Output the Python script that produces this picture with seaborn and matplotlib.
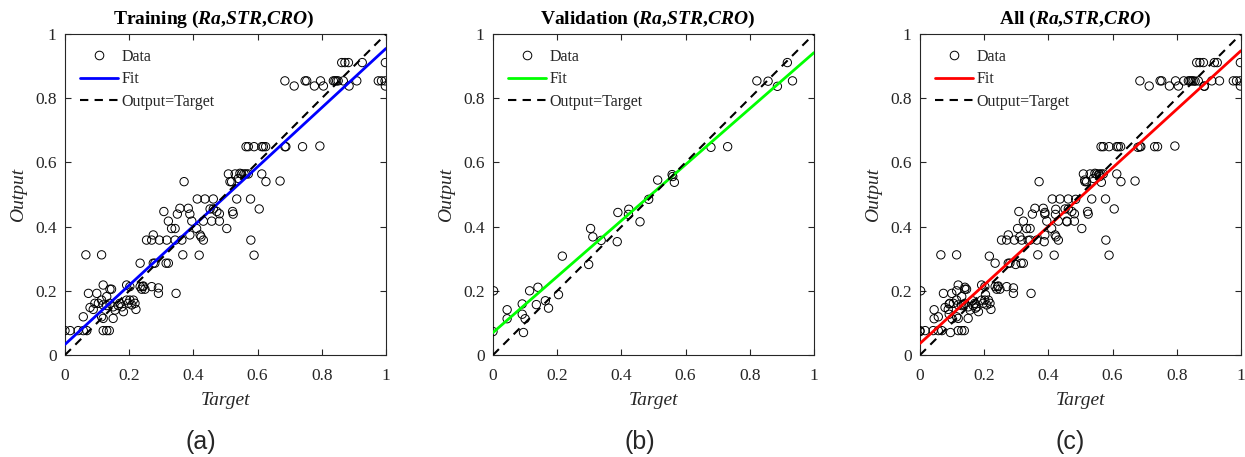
import matplotlib
matplotlib.use("Agg")
import numpy as np
import pandas as pd
import matplotlib.pyplot as plt
import seaborn as sns
from matplotlib.lines import Line2D

# Training set: normalised target vs. network output
train_target = [
    0.000, 0.016, 0.041, 0.057, 0.068, 0.119, 0.130, 0.138,
    0.057, 0.114, 0.119, 0.150,
    0.078, 0.088, 0.093, 0.104, 0.114, 0.119, 0.130, 0.140, 0.150, 0.156,
    0.166, 0.171, 0.177, 0.182, 0.192, 0.197, 0.202, 0.208, 0.213, 0.218, 0.221,
    0.073, 0.099, 0.119, 0.130, 0.140, 0.145, 0.192, 0.202, 0.234, 0.239,
    0.242, 0.244, 0.249, 0.270, 0.291, 0.291, 0.346,
    0.065, 0.114, 0.234, 0.275, 0.280, 0.315, 0.322, 0.367, 0.418, 0.589,
    0.254, 0.270, 0.294, 0.317, 0.343, 0.364, 0.275, 0.389, 0.421, 0.424, 0.431, 0.579,
    0.322, 0.332, 0.343, 0.395, 0.410, 0.431, 0.457, 0.481, 0.504,
    0.308, 0.350, 0.358, 0.384, 0.389, 0.452, 0.462, 0.473, 0.481, 0.522, 0.524, 0.605,
    0.412, 0.436, 0.462, 0.535, 0.578,
    0.371, 0.514, 0.519, 0.540, 0.626, 0.670,
    0.509, 0.530, 0.545, 0.550, 0.558, 0.564, 0.571, 0.613,
    0.564, 0.571, 0.589, 0.613, 0.618, 0.625, 0.685, 0.688, 0.740, 0.794,
    0.685, 0.714, 0.748, 0.753, 0.777, 0.796, 0.805, 0.836, 0.841, 0.846,
    0.851, 0.867, 0.885, 0.909, 0.862, 0.872, 0.883, 0.926, 0.976, 0.986,
    0.997, 0.998, 0.998,
]
train_output = [
    0.076, 0.076, 0.076, 0.076, 0.076, 0.076, 0.076, 0.076,
    0.119, 0.119, 0.114, 0.114,
    0.148, 0.142, 0.161, 0.161, 0.171, 0.156, 0.154, 0.161, 0.150, 0.140,
    0.154, 0.161, 0.150, 0.135, 0.171, 0.161, 0.171, 0.156, 0.171, 0.161, 0.142,
    0.192, 0.192, 0.218, 0.182, 0.205, 0.205, 0.218, 0.213, 0.213, 0.205,
    0.213, 0.215, 0.205, 0.213, 0.192, 0.209, 0.192,
    0.312, 0.312, 0.286, 0.286, 0.286, 0.286, 0.286, 0.312, 0.311, 0.311,
    0.358, 0.358, 0.358, 0.358, 0.358, 0.358, 0.374, 0.374, 0.374, 0.368, 0.358, 0.358,
    0.417, 0.394, 0.394, 0.417, 0.394, 0.417, 0.417, 0.417, 0.394,
    0.447, 0.439, 0.457, 0.457, 0.439, 0.455, 0.455, 0.447, 0.440, 0.447, 0.439, 0.455,
    0.486, 0.486, 0.486, 0.486, 0.486,
    0.540, 0.540, 0.540, 0.550, 0.540, 0.542,
    0.564, 0.564, 0.566, 0.564, 0.564, 0.564, 0.564, 0.564,
    0.649, 0.649, 0.649, 0.649, 0.649, 0.649, 0.649, 0.649, 0.649, 0.651,
    0.854, 0.838, 0.854, 0.854, 0.838, 0.854, 0.838, 0.854, 0.854, 0.854,
    0.854, 0.854, 0.838, 0.854, 0.911, 0.911, 0.911, 0.911, 0.854, 0.854,
    0.854, 0.911, 0.838,
]

# Validation set
val_target = [
    0.002, 0.000, 0.044, 0.044, 0.091, 0.091, 0.100, 0.095, 0.114, 0.140,
    0.135, 0.163, 0.173, 0.204, 0.216, 0.298, 0.304, 0.311, 0.337, 0.387,
    0.389, 0.423, 0.422, 0.458, 0.485, 0.513, 0.558, 0.560, 0.565, 0.679,
    0.731, 0.822, 0.857, 0.886, 0.917, 0.933,
]
val_output = [
    0.200, 0.073, 0.141, 0.113, 0.159, 0.127, 0.113, 0.070, 0.200, 0.211,
    0.157, 0.169, 0.146, 0.188, 0.308, 0.282, 0.394, 0.368, 0.357, 0.353,
    0.444, 0.454, 0.438, 0.415, 0.485, 0.545, 0.562, 0.556, 0.538, 0.647,
    0.649, 0.854, 0.853, 0.837, 0.911, 0.854,
]

# Linear fit (slope, intercept) reported for each subset
fit_train = (0.922, 0.033)
fit_val = (0.872, 0.070)
fit_all = (0.912, 0.036)

panel_names = ["Training", "Validation", "All"]
panel_tags = ["(a)", "(b)", "(c)"]
fit_colors = ["#0000ff", "#00ff00", "#ff0000"]
tick_values = [0, 0.2, 0.4, 0.6, 0.8, 1]
tick_labels = ["0", "0.2", "0.4", "0.6", "0.8", "1"]

sns.set_style("ticks")
plt.rcParams["font.family"] = ["Liberation Serif", "DejaVu Serif"]
plt.rcParams["mathtext.fontset"] = "custom"
plt.rcParams["mathtext.rm"] = "Liberation Serif"
plt.rcParams["mathtext.it"] = "Liberation Serif:italic"
plt.rcParams["mathtext.bf"] = "Liberation Serif:bold"
plt.rcParams["mathtext.bfit"] = "Liberation Serif:italic:bold"

ink = "#262626"

df_train = pd.DataFrame({"Target": train_target, "Output": train_output})
df_val = pd.DataFrame({"Target": val_target, "Output": val_output})
df_all = pd.concat([df_train, df_val], ignore_index=True)

subsets = [(df_train, fit_train), (df_val, fit_val), (df_all, fit_all)]

W, H = 1245, 457
fig = plt.figure(figsize=(W / 100, H / 100), dpi=100)
lefts = [65, 493, 920]
title_x = [0.462, 0.481, 0.484]
tag_x = [201, 640, 1070]

line_x = np.array([0.0, 1.0])

for i, (df, (slope, icpt)) in enumerate(subsets):
    ax = fig.add_axes([lefts[i] / W, 102 / H, 321 / W, 321 / H])

    sns.scatterplot(data=df, x="Target", y="Output", ax=ax, marker="o",
                    s=36, facecolors="none", edgecolor="black",
                    linewidth=0.7, legend=False, zorder=3)
    fit_df = pd.DataFrame({"x": line_x, "y": slope * line_x + icpt})
    sns.lineplot(data=fit_df, x="x", y="y", ax=ax, color=fit_colors[i],
                 linewidth=2.0, zorder=4)
    ident_df = pd.DataFrame({"x": line_x, "y": line_x})
    sns.lineplot(data=ident_df, x="x", y="y", ax=ax, color="black",
                 linewidth=1.5, linestyle=(0, (4, 3)), zorder=5)

    ax.set_xlim(0, 1)
    ax.set_ylim(0, 1)
    ax.set_xticks(tick_values)
    ax.set_xticklabels(tick_labels)
    ax.set_yticks(tick_values)
    ax.set_yticklabels(tick_labels)
    ax.tick_params(direction="in", length=4, width=0.8, top=True, right=True,
                   labelsize=12.5, colors=ink)
    ax.tick_params(axis="x", pad=9)
    ax.tick_params(axis="y", pad=6)
    for sp in ax.spines.values():
        sp.set_color(ink)
        sp.set_linewidth(0.8)

    ax.set_xlabel("Target", fontsize=14, fontstyle="italic", color=ink,
                  labelpad=6)
    ax.set_ylabel("Output", fontsize=14, fontstyle="italic", color=ink,
                  labelpad=6)

    title = r"$\mathbf{%s\ (}\mathbfit{Ra}\mathbf{,}\mathbfit{STR}\mathbf{,}\mathbfit{CRO}\mathbf{)}$" % panel_names[i]
    ax.set_title(title, fontsize=14, x=title_x[i], pad=7, color="black")

    handles = [
        Line2D([], [], marker="o", linestyle="none", markerfacecolor="none",
               markeredgecolor="black", markersize=6.2, markeredgewidth=0.7),
        Line2D([], [], color=fit_colors[i], linewidth=2.0),
        Line2D([], [], color="black", linewidth=1.5, linestyle=(0, (4, 3))),
    ]
    ax.legend(handles, ["Data", "Fit", "Output=Target"], loc="upper left",
              bbox_to_anchor=(0.047, 0.953), frameon=False, fontsize=11.5,
              handlelength=2.4, handletextpad=0.2, labelspacing=0.4,
              borderpad=0, borderaxespad=0)

    fig.text(tag_x[i] / W, (H - 442) / H, panel_tags[i], ha="center",
             va="center", fontsize=18, family=["Liberation Sans", "DejaVu Sans"])

fig.savefig("out.png", dpi=100)
